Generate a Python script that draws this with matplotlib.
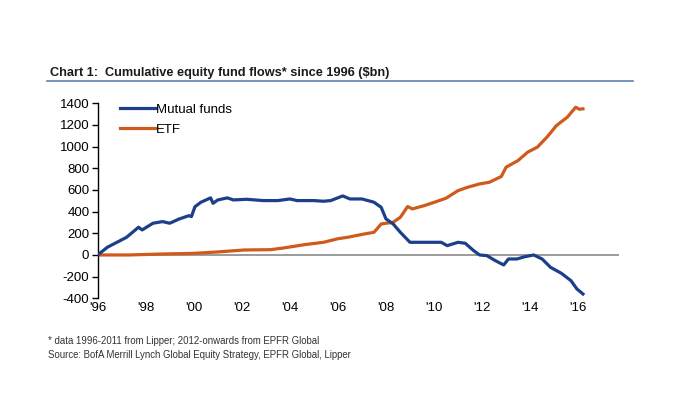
import matplotlib.pyplot as plt

# values ($bn)
mf_years = [1996.0, 1996.4, 1996.8, 1997.2, 1997.7, 1997.85, 1998.3, 1998.7, 1999.0, 1999.4,
            1999.8, 1999.9, 2000.05, 2000.3, 2000.7, 2000.8, 2001.0, 2001.4, 2001.65, 2002.2,
            2002.9, 2003.5, 2004.0, 2004.3, 2005.0, 2005.4, 2005.7, 2006.2, 2006.5, 2007.0,
            2007.5, 2007.8, 2008.0, 2008.3, 2008.6, 2009.0, 2009.3, 2009.85, 2010.3, 2010.55,
            2011.0, 2011.3, 2011.65, 2011.9, 2012.2, 2012.55, 2012.9, 2013.1, 2013.45, 2013.8,
            2014.15, 2014.5, 2014.85, 2015.3, 2015.7, 2015.95, 2016.2]
mf_values = [0, 71, 117, 163, 256, 231, 293, 308, 293, 333,
             363, 354, 446, 487, 527, 477, 508, 527, 508, 514,
             502, 502, 517, 502, 502, 496, 502, 545, 517, 517,
             487, 440, 333, 286, 209, 117, 117, 117, 117, 86,
             117, 108, 40, 0, -6, -52, -92, -37, -37, -15,
             0, -37, -114, -169, -237, -314, -360]

etf_years = [1996.0, 1997.3, 1998.7, 2000.0, 2001.0, 2002.1, 2003.2, 2003.75, 2004.6, 2005.4,
             2006.0, 2006.4, 2007.1, 2007.5, 2007.8, 2008.3, 2008.6, 2008.9, 2009.1, 2009.6,
             2010.1, 2010.5, 2011.0, 2011.4, 2011.9, 2012.3, 2012.8, 2013.0, 2013.5, 2013.9,
             2014.3, 2014.7, 2015.1, 2015.55, 2015.9, 2016.05, 2016.2]
etf_values = [0, 0, 9, 15, 28, 46, 49, 65, 95, 117,
              150, 163, 194, 209, 286, 302, 348, 447, 425, 456,
              493, 524, 594, 625, 656, 671, 724, 810, 872, 949,
              995, 1087, 1195, 1272, 1364, 1345, 1349]

x_ticks = [1996, 1998, 2000, 2002, 2004, 2006, 2008, 2010, 2012, 2014, 2016]
x_labels = ["'96", "'98", "'00", "'02", "'04", "'06", "'08", "'10", "'12", "'14", "'16"]
y_ticks = [-400, -200, 0, 200, 400, 600, 800, 1000, 1200, 1400]

plt.rcParams['font.family'] = ['Liberation Sans', 'DejaVu Sans']
plt.rcParams['axes.unicode_minus'] = False

fig = plt.figure(figsize=(6.79, 3.97), dpi=100)
ax = fig.add_axes([0.1439, 0.2486, 0.7677, 0.4912])

ax.axhline(0, color='#8a8a8a', linewidth=1.2, zorder=1)
ax.plot(mf_years, mf_values, color='#1b3f8b', linewidth=2.3, label='Mutual funds', zorder=3)
ax.plot(etf_years, etf_values, color='#cf5a1c', linewidth=2.3, label='ETF', zorder=2)

ax.set_xlim(1996, 2017.7)
ax.set_ylim(-400, 1400)
ax.set_yticks(y_ticks)
ax.set_xticks(x_ticks)
ax.set_xticklabels(x_labels)
for s in ['top', 'right', 'bottom']:
    ax.spines[s].set_visible(False)
ax.spines['left'].set_linewidth(1.0)
ax.tick_params(axis='y', direction='out', length=4, width=1, labelsize=9.5, pad=2)
ax.tick_params(axis='x', length=0, labelsize=9.5, pad=3)

ax.legend(loc='upper left', bbox_to_anchor=(0.02, 1.06), frameon=False,
          fontsize=9.5, handlelength=2.7, handletextpad=0.05, labelspacing=0.6)

fig.text(0.073, 0.808, 'Chart 1:  Cumulative equity fund flows* since 1996 ($bn)',
         fontsize=9.2, fontweight='bold', color='#1a1a1a')
fig.add_artist(plt.Line2D([0.069, 0.932], [0.797, 0.797], color='#5d7fb5', linewidth=1.2,
                          transform=fig.transFigure))

fig.text(0.071, 0.142, '* data 1996-2011 from Lipper; 2012-onwards from EPFR Global',
         fontsize=6.9, color='#333333', va='center')
fig.text(0.071, 0.105, 'Source: BofA Merrill Lynch Global Equity Strategy, EPFR Global, Lipper',
         fontsize=6.9, color='#333333', va='center')

fig.savefig('out.png', dpi=100)
